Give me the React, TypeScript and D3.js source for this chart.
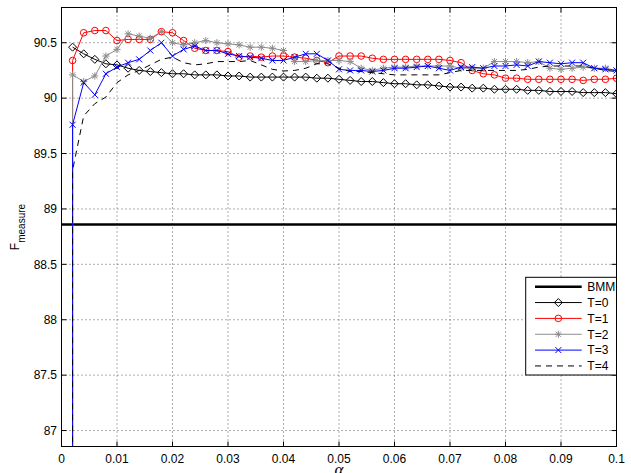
import React from 'react';
import * as d3 from 'd3';

// alpha grid (x axis)
const alphas = d3.range(1, 51).map(i => +(i * 0.002).toFixed(3));

// F_measure, one value per alpha
const t0 = [90.46, 90.40, 90.35, 90.31, 90.30, 90.27, 90.25, 90.24, 90.23, 90.22,
  90.22, 90.21, 90.21, 90.21, 90.20, 90.20, 90.19, 90.19, 90.19, 90.19,
  90.19, 90.19, 90.18, 90.18, 90.17, 90.16, 90.15, 90.15, 90.14, 90.13,
  90.13, 90.12, 90.12, 90.11, 90.10, 90.10, 90.09, 90.09, 90.08, 90.08,
  90.08, 90.07, 90.07, 90.06, 90.06, 90.06, 90.05, 90.05, 90.05, 90.04];
const t1 = [90.34, 90.59, 90.61, 90.61, 90.52, 90.53, 90.53, 90.53, 90.60, 90.59,
  90.52, 90.45, 90.43, 90.43, 90.42, 90.37, 90.38, 90.37, 90.38, 90.38,
  90.37, 90.36, 90.34, 90.32, 90.38, 90.38, 90.38, 90.36, 90.35, 90.35,
  90.35, 90.35, 90.35, 90.35, 90.34, 90.32, 90.25, 90.22, 90.21, 90.18,
  90.18, 90.17, 90.17, 90.17, 90.17, 90.17, 90.16, 90.17, 90.17, 90.18];
const t2 = [90.21, 90.15, 90.20, 90.38, 90.44, 90.58, 90.56, 90.54, 90.60, 90.50,
  90.48, 90.50, 90.52, 90.50, 90.49, 90.48, 90.46, 90.46, 90.45, 90.43,
  90.33, 90.33, 90.34, 90.34, 90.34, 90.33, 90.27, 90.25, 90.27, 90.28,
  90.28, 90.29, 90.29, 90.29, 90.29, 90.27, 90.27, 90.27, 90.33, 90.33,
  90.33, 90.32, 90.33, 90.27, 90.26, 90.27, 90.28, 90.27, 90.27, 90.25];
const t3 = [89.76, 90.14, 90.03, 90.22, 90.28, 90.32, 90.35, 90.43, 90.50, 90.38,
  90.44, 90.47, 90.43, 90.43, 90.40, 90.38, 90.37, 90.36, 90.34, 90.34,
  90.37, 90.40, 90.40, 90.34, 90.26, 90.25, 90.25, 90.24, 90.25, 90.27,
  90.27, 90.28, 90.29, 90.27, 90.25, 90.28, 90.28, 90.27, 90.29, 90.29,
  90.30, 90.29, 90.33, 90.32, 90.31, 90.32, 90.32, 90.27, 90.26, 90.25];
const t4 = [89.35, 89.84, 89.95, 90.01, 90.14, 90.21, 90.25, 90.30, 90.35, 90.37,
  90.32, 90.30, 90.31, 90.33, 90.33, 90.33, 90.34, 90.30, 90.26, 90.245,
  90.25, 90.27, 90.31, 90.31, 90.27, 90.24, 90.24, 90.23, 90.22, 90.21,
  90.21, 90.21, 90.21, 90.21, 90.23, 90.25, 90.25, 90.25, 90.25, 90.25,
  90.25, 90.26, 90.28, 90.29, 90.29, 90.29, 90.29, 90.27, 90.25, 90.24];

const bmmValue = 88.86;
// T>=1 curves start from a value far below the axis at the first alpha
const dropValue = 86.0;
const dropFlags = [false, true, true, true, true];

const legendLabels = ['BMM', 'T=0', 'T=1', 'T=2', 'T=3', 'T=4'];
const xTicks = [0, 0.01, 0.02, 0.03, 0.04, 0.05, 0.06, 0.07, 0.08, 0.09, 0.1];
const xTickLabels = ['0', '0.01', '0.02', '0.03', '0.04', '0.05', '0.06', '0.07', '0.08', '0.09', '0.1'];
const yTicks = [87, 87.5, 88, 88.5, 89, 89.5, 90, 90.5];
const yTickLabels = ['87', '87.5', '88', '88.5', '89', '89.5', '90', '90.5'];

const W = 631, H = 473;
const box = { left: 61.5, right: 616.5, top: 7.5, bottom: 446.5 };
const font = '"Liberation Sans", Arial, sans-serif';

type Marker = 'diamond' | 'circle' | 'star' | 'x' | 'none';
const styles: { color: string; marker: Marker; dash?: string }[] = [
  { color: '#000', marker: 'diamond' },
  { color: '#ff0000', marker: 'circle' },
  { color: '#8c8c8c', marker: 'star' },
  { color: '#0000ff', marker: 'x' },
  { color: '#000', marker: 'none', dash: '6 5' },
];

function markerPath(m: Marker): string {
  if (m === 'diamond') return 'M0,-4L4,0L0,4L-4,0Z';
  if (m === 'star') return 'M-3.6,0H3.6M0,-3.6V3.6M-2.6,-2.6L2.6,2.6M-2.6,2.6L2.6,-2.6';
  if (m === 'x') return 'M-3,-3L3,3M-3,3L3,-3';
  return '';
}

function MarkerShape({ m, cx, cy, color }: { m: Marker; cx: number; cy: number; color: string }) {
  if (m === 'none') return null;
  if (m === 'circle') return <circle cx={cx} cy={cy} r={3.3} fill="none" stroke={color} strokeWidth={1} />;
  return <path d={markerPath(m)} transform={`translate(${cx},${cy})`} fill="none" stroke={color} strokeWidth={1} />;
}

export default function App() {
  const x = d3.scaleLinear().domain([0, 0.1]).range([box.left, box.right]);
  const y = d3.scaleLinear().domain([86.856, 90.818]).range([box.bottom, box.top]);
  const line = d3.line<[number, number]>().x(d => x(d[0])).y(d => y(d[1]));

  const series = [t0, t1, t2, t3, t4].map((vals, k) => {
    const pts: [number, number][] = alphas.map((a, i) => [a, vals[i]]);
    const path: [number, number][] = dropFlags[k] ? [[alphas[0], dropValue], ...pts] : pts;
    return { pts, path, ...styles[k] };
  });

  const legendX0 = 535, legendX1 = 581.7, legendTextX = 587.3;
  const legendRowY = (i: number) => 286.7 + i * 15.85;

  return (
    <svg width={W} height={H} style={{ position: 'absolute', left: 0, top: 0, background: '#fff' }}>
      <defs>
        <clipPath id="plotclip">
          <rect x={box.left} y={box.top} width={box.right - box.left} height={box.bottom - box.top} />
        </clipPath>
      </defs>
      {/* grid */}
      <g stroke="#333" strokeWidth={0.8} strokeDasharray="1 3">
        {xTicks.slice(1, -1).map(t => (
          <line key={'gx' + t} x1={x(t)} x2={x(t)} y1={box.top} y2={box.bottom} />
        ))}
        {yTicks.map(t => (
          <line key={'gy' + t} x1={box.left} x2={box.right} y1={y(t)} y2={y(t)} />
        ))}
      </g>
      {/* ticks inside on all four sides */}
      <g stroke="#000" strokeWidth={1}>
        {xTicks.map(t => (
          <g key={'tx' + t}>
            <line x1={x(t)} x2={x(t)} y1={box.bottom} y2={box.bottom - 5} />
            <line x1={x(t)} x2={x(t)} y1={box.top} y2={box.top + 5} />
          </g>
        ))}
        {yTicks.map(t => (
          <g key={'ty' + t}>
            <line x1={box.left} x2={box.left + 5} y1={y(t)} y2={y(t)} />
            <line x1={box.right} x2={box.right - 5} y1={y(t)} y2={y(t)} />
          </g>
        ))}
      </g>
      {/* data */}
      <g clipPath="url(#plotclip)">
        <line x1={box.left} x2={box.right} y1={y(bmmValue)} y2={y(bmmValue)} stroke="#000" strokeWidth={2.4} />
        {series.map((s, k) => (
          <g key={'s' + k}>
            <path d={line(s.path) || ''} fill="none" stroke={s.color} strokeWidth={1} strokeDasharray={s.dash} />
            {s.pts.map((p, i) => (
              <MarkerShape key={i} m={s.marker} cx={x(p[0])} cy={y(p[1])} color={s.color} />
            ))}
          </g>
        ))}
      </g>
      {/* frame */}
      <rect x={box.left} y={box.top} width={box.right - box.left} height={box.bottom - box.top} fill="none" stroke="#000" strokeWidth={1} />
      {/* tick labels */}
      <g fontFamily={font} fontSize={12} fill="#000">
        {xTicks.map((t, i) => (
          <text key={'lx' + t} x={x(t)} y={463} textAnchor="middle">{xTickLabels[i]}</text>
        ))}
        {yTicks.map((t, i) => (
          <text key={'ly' + t} x={57} y={y(t) + 4.3} textAnchor="end">{yTickLabels[i]}</text>
        ))}
      </g>
      {/* axis labels */}
      <text x={(box.left + box.right) / 2} y={475} textAnchor="middle" fontFamily='"Liberation Serif", serif' fontStyle="italic" fontSize={17}>α</text>
      <text transform={`translate(18.5,${(box.top + box.bottom) / 2}) rotate(-90)`} textAnchor="middle" fontFamily={font}>
        <tspan fontSize={12}>F</tspan>
        <tspan fontSize={10} dy={6.5}>measure</tspan>
      </text>
      {/* legend */}
      <g>
        <rect x={525.7} y={277.3} width={box.right - 525.7} height={375 - 277.3} fill="#fff" stroke="#000" strokeWidth={1} />
        {legendLabels.map((lab, i) => {
          const ly = legendRowY(i);
          const st = i === 0 ? null : styles[i - 1];
          return (
            <g key={'lg' + i}>
              <line x1={legendX0} x2={legendX1} y1={ly} y2={ly}
                stroke={st ? st.color : '#000'} strokeWidth={st ? 1 : 2.4} strokeDasharray={st?.dash} />
              {st && <MarkerShape m={st.marker} cx={(legendX0 + legendX1) / 2} cy={ly} color={st.color} />}
              <text x={legendTextX} y={ly + 4.3} fontFamily={font} fontSize={12}>{lab}</text>
            </g>
          );
        })}
      </g>
    </svg>
  );
}
